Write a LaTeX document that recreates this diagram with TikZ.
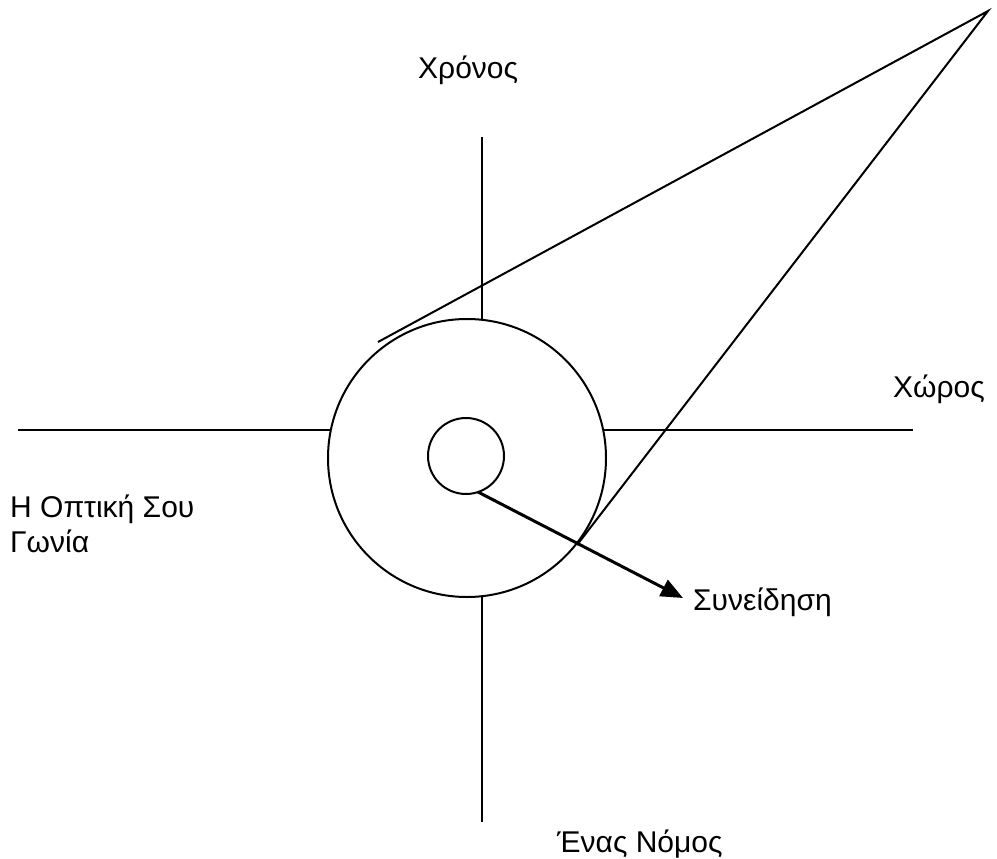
\documentclass[tikz,border=0pt]{standalone}
\usepackage{fontspec}
\setmainfont{Liberation Sans}
\usetikzlibrary{arrows.meta}
\tikzset{
  ln/.style={line width=2pt, black},
  lbl/.style={anchor=base west, inner sep=0pt, font=\fontsize{30}{35}\selectfont},
}
\begin{document}
\begin{tikzpicture}[x=1pt,y=-1pt]
\useasboundingbox (0,0) rectangle (997,859);
% circles
\node[ln, draw, circle, minimum size=278pt, inner sep=0pt] (big) at (467,458) {};
\node[ln, draw, circle, minimum size=76pt, inner sep=0pt] (small) at (466,456) {};
% axes
\coordinate (top) at (482,137);
\coordinate (topc) at (482,319);
\coordinate (bot) at (482,822);
\coordinate (botc) at (482,597);
\coordinate (left) at (18,430);
\coordinate (leftc) at (330,430);
\coordinate (right) at (913,430);
\coordinate (rightc) at (604,430);
\draw[ln] (top) -- (topc);
\draw[ln] (botc) -- (bot);
\draw[ln] (left) -- (leftc);
\draw[ln] (rightc) -- (right);
% cone
\coordinate (apex) at (988,11);
\coordinate (c1) at (378,342);
\coordinate (c2) at (577,545);
\draw[ln] (c1) -- (apex) -- (c2);
% arrow
\coordinate (a0) at (478,492);
\coordinate (a1) at (683,598);
\draw[line width=3pt, -{Triangle[length=22pt,width=18pt]}] (a0) -- (a1);
% labels
\node[lbl] (t1) at (418,78) {Χρόνος};
\node[lbl] (t2) at (893,397) {Χώρος};
\node[lbl] (t3) at (10,517) {Η Οπτική Σου};
\node[lbl] (t4) at (10,552) {Γωνία};
\node[lbl] (t5) at (693,610) {Συνείδηση};
\node[lbl] (t6) at (557,852) {Ένας Νόμος};
\end{tikzpicture}
\end{document}
